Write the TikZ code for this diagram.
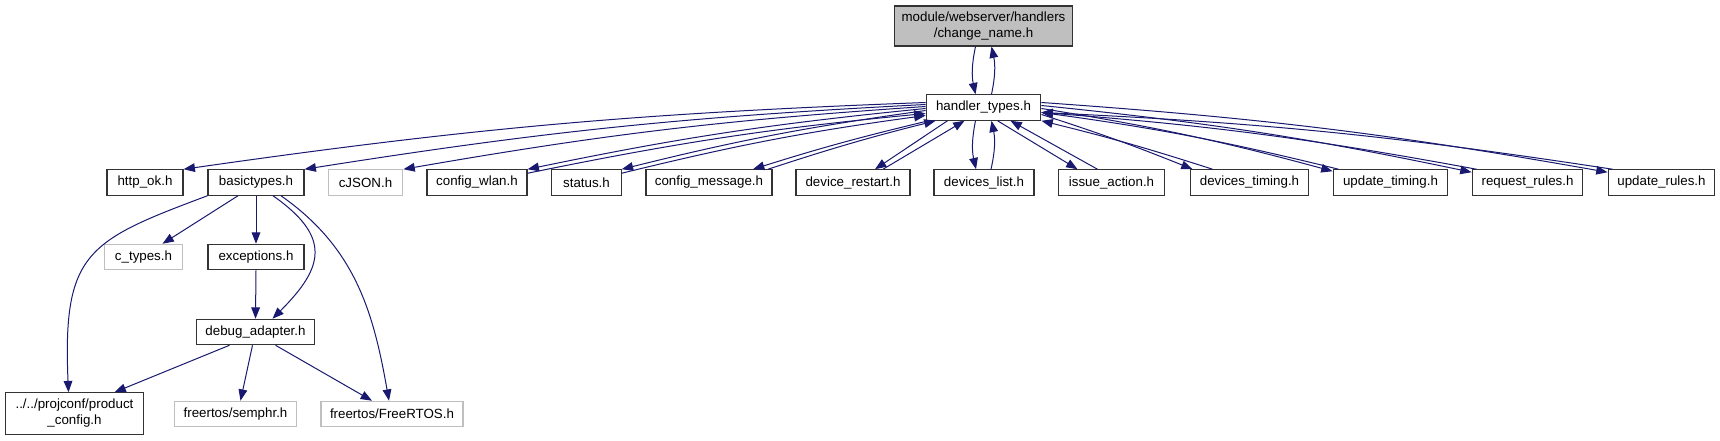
\documentclass[tikz,border=0pt]{standalone}
\usepackage{fontspec}
\setmainfont{Liberation Sans}
\usetikzlibrary{arrows.meta,calc}
\definecolor{linkblue}{HTML}{191970}
\definecolor{extgray}{HTML}{BFBFBF}
\tikzset{
      filebox/.style={
        draw=black!80,
        line width=0.9pt,
        fill=white,
        inner sep=0pt,
        minimum height=19pt,
        font=\fontsize{10}{12}\selectfont
      },
      extbox/.style={filebox, draw=extgray},
      rootbox/.style={filebox, fill=extgray, align=center, minimum height=30pt},
      inclink/.style={
        draw=linkblue,
        line width=0.75pt,
        -{Triangle[length=8.5pt,width=6.5pt]}
      }
    }
\begin{document}
\begin{tikzpicture}[x=0.75pt,y=0.75pt]
    \path[use as bounding box, fill=white] (0,0) rectangle (1720,440);
    \node[rootbox, minimum width=134pt] (changename) at (983.5,414) {module/webserver/handlers\\/change\_name.h};
    \node[filebox, minimum width=86pt] (handlertypes) at (983.5,332.5) {handler\_types.h};
    \node[filebox, minimum width=57pt] (httpok) at (145,257.5) {http\_ok.h};
    \node[filebox, minimum width=72pt] (basictypes) at (256,257.5) {basictypes.h};
    \node[extbox, minimum width=56pt] (cjson) at (365.5,257.5) {cJSON.h};
    \node[filebox, minimum width=75pt] (configwlan) at (477,257.5) {config\_wlan.h};
    \node[filebox, minimum width=52pt] (status) at (586.5,257.5) {status.h};
    \node[filebox, minimum width=94.5pt] (configmsg) at (709,257.5) {config\_message.h};
    \node[filebox, minimum width=85.5pt] (devrestart) at (853,257.5) {device\_restart.h};
    \node[filebox, minimum width=75pt] (devlist) at (984,257.5) {devices\_list.h};
    \node[filebox, minimum width=80pt] (issueaction) at (1111.5,257.5) {issue\_action.h};
    \node[filebox, minimum width=89pt] (devtiming) at (1249.5,257.5) {devices\_timing.h};
    \node[filebox, minimum width=86pt] (updtiming) at (1390.5,257.5) {update\_timing.h};
    \node[filebox, minimum width=83pt] (reqrules) at (1527.5,257.5) {request\_rules.h};
    \node[filebox, minimum width=80pt] (updrules) at (1661.5,257.5) {update\_rules.h};
    \node[extbox, minimum width=59pt] (ctypes) at (143.5,183) {c\_types.h};
    \node[filebox, minimum width=72pt] (exceptions) at (256,183) {exceptions.h};
    \node[filebox, minimum width=89pt] (dbgadapter) at (255.5,108) {debug\_adapter.h};
    \node[filebox, minimum width=104pt, minimum height=31pt, align=center] (prodconfig) at (74.5,26.5) {../../projconf/product\\\_config.h};
    \node[extbox, minimum width=92pt] (semphr) at (235.5,26) {freertos/semphr.h};
    \node[extbox, minimum width=106.5pt] (freertos) at (392,26) {freertos/FreeRTOS.h};
    \draw[inclink] ($(changename.south)+(-8,0)$) to[bend right=12] ($(handlertypes.north)+(-8,0)$);
    \draw[inclink] ($(handlertypes.north)+(8,0)$) to[bend right=12] ($(changename.south)+(8,0)$);
    \draw[inclink] ($(handlertypes.west)+(0,5)$) to[bend right=3] (httpok.north east);
    \draw[inclink] ($(handlertypes.west)+(0,3)$) to[bend right=3] (basictypes.north east);
    \draw[inclink] ($(handlertypes.west)+(0,1)$) to[bend right=3] (cjson.north east);
    \draw[inclink] ($(handlertypes.west)+(0,-1)$) to[bend right=3] (configwlan.north east);
    \draw[inclink] ($(configwlan.north east)+(0,-4)$) to[bend left=3] ($(handlertypes.west)+(0,-6)$);
    \draw[inclink] ($(handlertypes.west)+(0,-3)$) to[bend right=3] (status.north east);
    \draw[inclink] ($(status.north east)+(0,-4)$) to[bend left=3] ($(handlertypes.west)+(0,-8)$);
    \draw[inclink] ($(handlertypes.south west)+(3,0)$) to[bend right=2] ($(configmsg.north)+(44,0)$);
    \draw[inclink] ($(configmsg.north)+(59,0)$) to[bend left=2] ($(handlertypes.south west)+(10,0)$);
    \draw[inclink] ($(handlertypes.south)+(-36,0)$) -- ($(devrestart.north)+(22,0)$);
    \draw[inclink] ($(devrestart.north)+(30,0)$) -- ($(handlertypes.south)+(-19,0)$);
    \draw[inclink] ($(handlertypes.south)+(-8,0)$) to[bend right=12] ($(devlist.north)+(-8,0)$);
    \draw[inclink] ($(devlist.north)+(7,0)$) to[bend right=12] ($(handlertypes.south)+(8,0)$);
    \draw[inclink] ($(handlertypes.south)+(14,0)$) -- ($(issueaction.north)+(-34,0)$);
    \draw[inclink] ($(issueaction.north)+(-14,0)$) -- ($(handlertypes.south)+(27,0)$);
    \draw[inclink] ($(handlertypes.east)+(0,-7)$) to[bend left=2] ($(devtiming.north west)+(3,0)$);
    \draw[inclink] ($(devtiming.north west)+(23,0)$) to[bend right=2] (handlertypes.south east);
    \draw[inclink] ($(handlertypes.east)+(0,-1)$) to[bend left=3] ($(updtiming.north west)+(0,-2)$);
    \draw[inclink] ($(updtiming.north west)+(6,0)$) to[bend right=3] ($(handlertypes.east)+(0,-5)$);
    \draw[inclink] ($(handlertypes.east)+(0,2)$) to[bend left=3] ($(reqrules.north west)+(0,-3)$);
    \draw[inclink] ($(reqrules.north west)+(5,0)$) to[bend right=3] ($(handlertypes.east)+(0,-5)$);
    \draw[inclink] ($(handlertypes.east)+(0,5)$) to[bend left=3] ($(updrules.north west)+(0,-3)$);
    \draw[inclink] ($(updrules.north west)+(5,0)$) to[bend right=3] ($(handlertypes.east)+(0,-5)$);
    \draw[inclink] ($(basictypes.south)+(-18,0)$) -- ($(ctypes.north)+(19,0)$);
    \draw[inclink] (basictypes.south) -- (exceptions.north);
    \draw[inclink] ($(basictypes.south)+(17,0)$) to[out=-35,in=45,looseness=1.5] ($(dbgadapter.north)+(17,0)$);
    \draw[inclink] ($(basictypes.south)+(25,0)$) to[out=-35,in=100] ($(freertos.north)+(-3,0)$);
    \draw[inclink] (basictypes.south west) .. controls +(-120,-45) and +(-6,140) .. ($(prodconfig.north)+(-6,0)$);
    \draw[inclink] (exceptions.south) -- (dbgadapter.north);
    \draw[inclink] ($(dbgadapter.south)+(-26,0)$) -- ($(prodconfig.north)+(40,0)$);
    \draw[inclink] ($(dbgadapter.south)+(-3,0)$) -- ($(semphr.north)+(5,0)$);
    \draw[inclink] ($(dbgadapter.south)+(20,0)$) -- ($(freertos.north)+(-20,0)$);
\end{tikzpicture}
\end{document}
